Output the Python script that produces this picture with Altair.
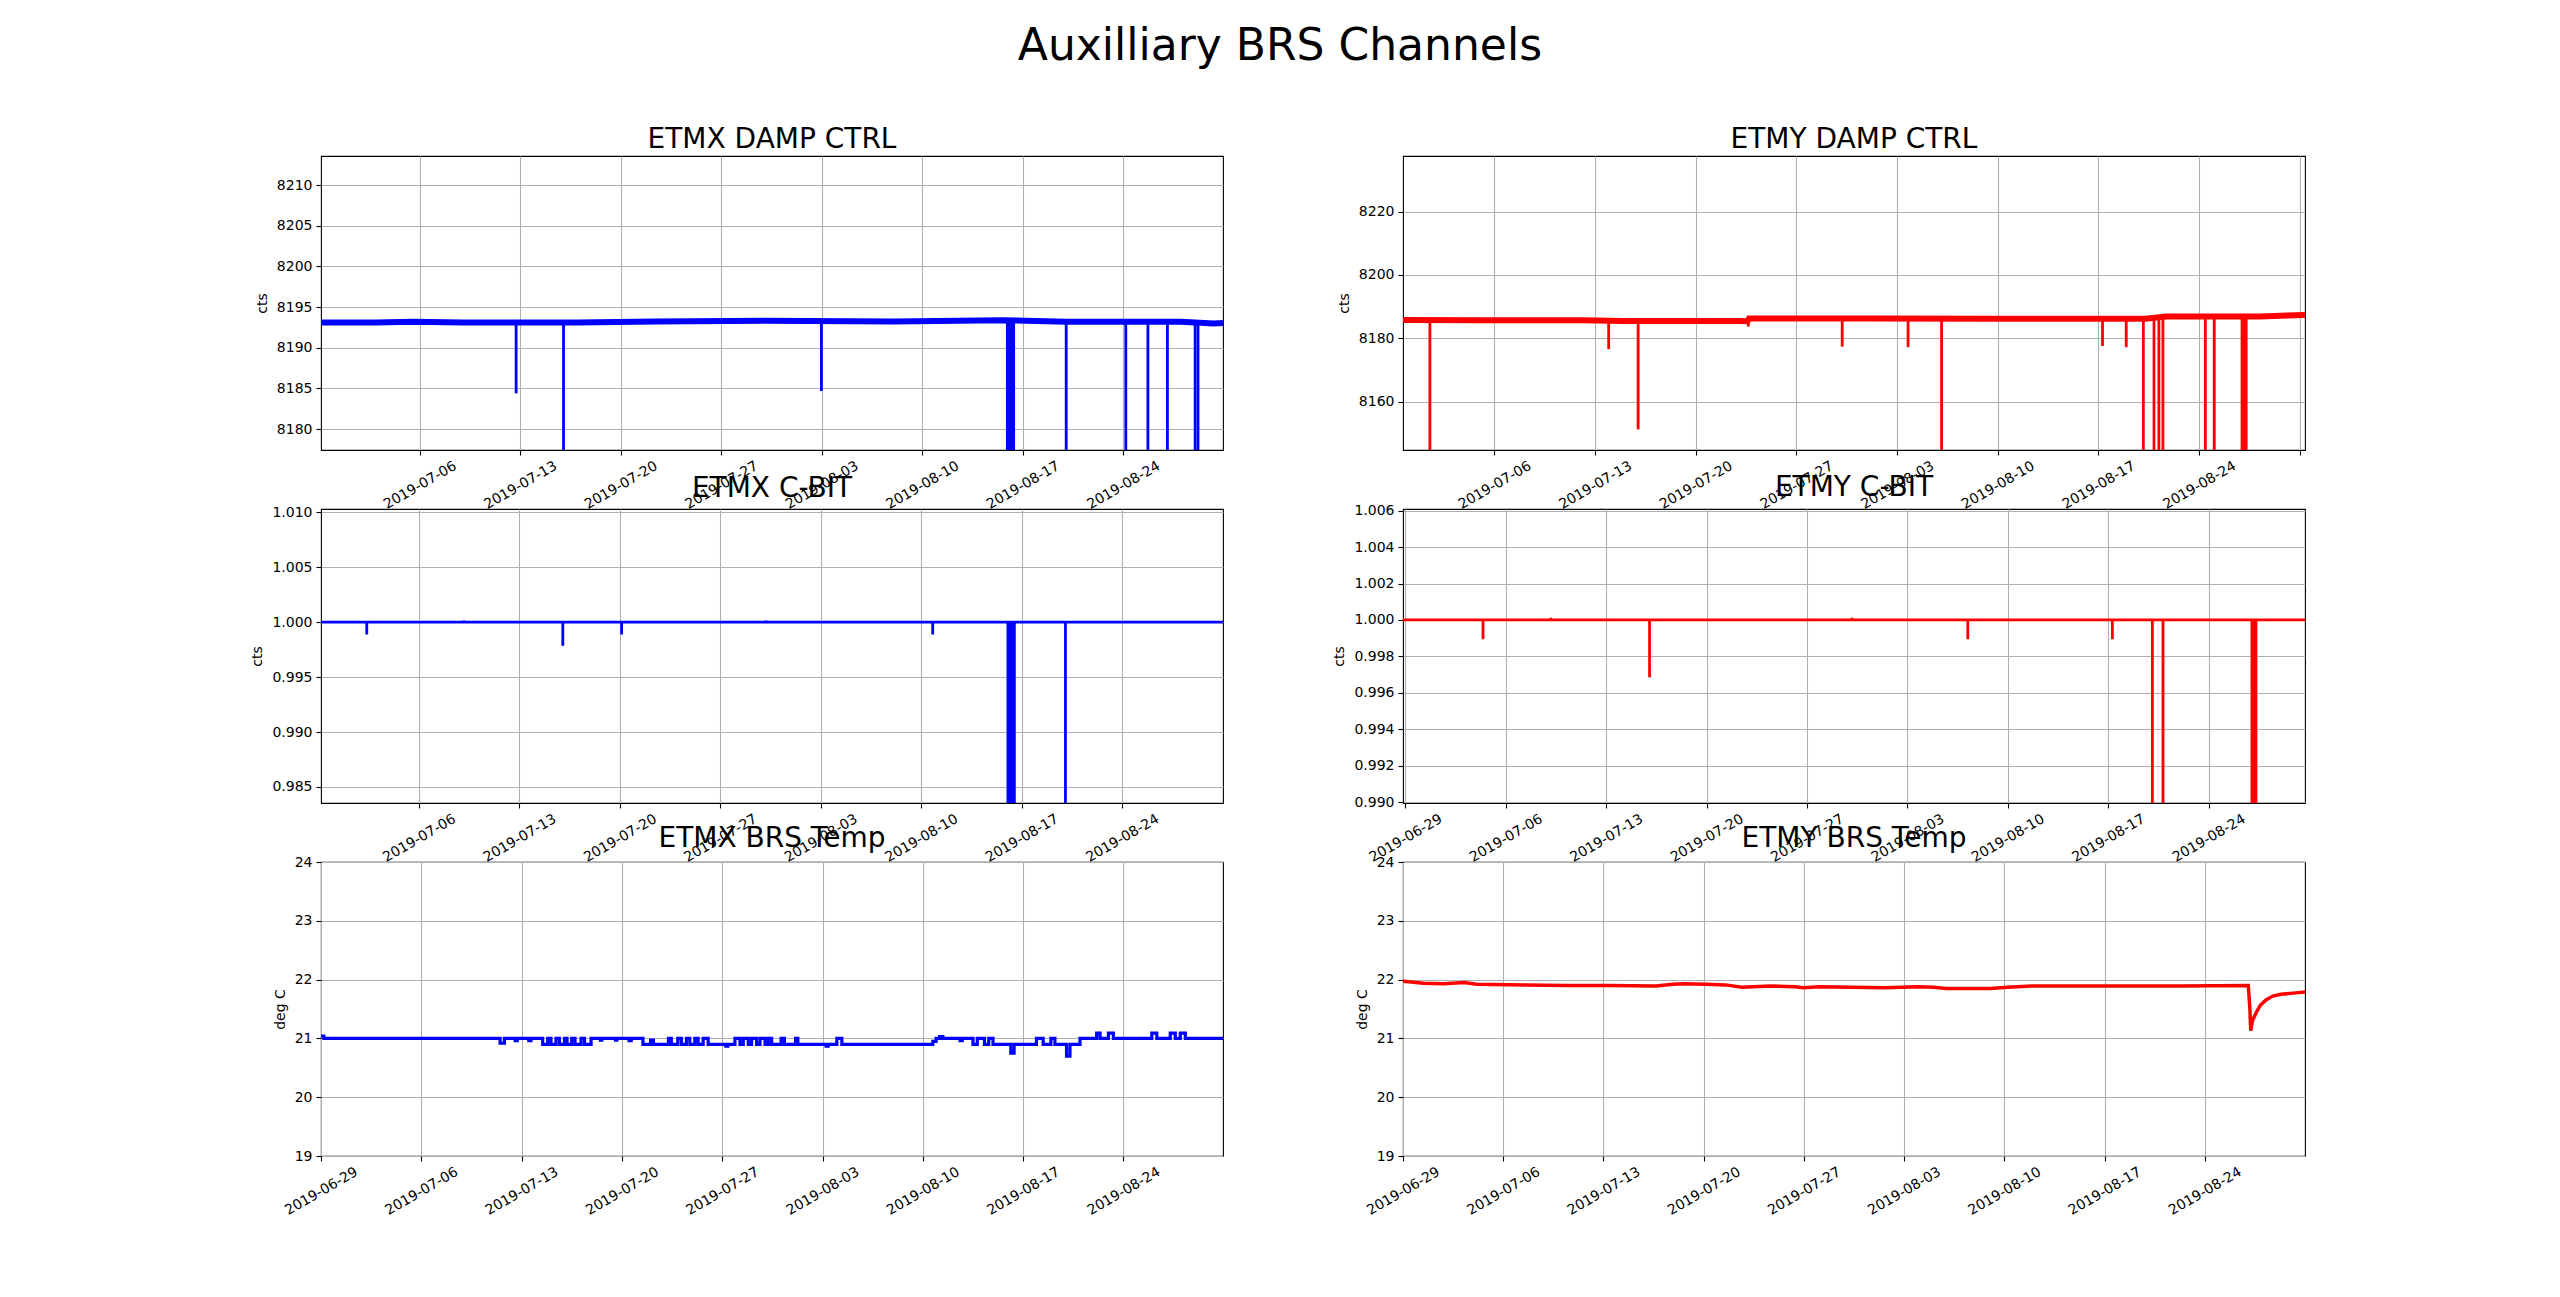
import altair as alt
import pandas as pd

# ---------------- data (days after 2019-06-29 00:00 UTC) ----------------
T0 = "2019-06-29"
week_ticks = ["2019-06-29", "2019-07-06", "2019-07-13", "2019-07-20", "2019-07-27",
              "2019-08-03", "2019-08-10", "2019-08-17", "2019-08-24", "2019-08-31"]

# ETMX DAMP CTRL
xd_base_day = [0.12, 4.0, 6.5, 10.0, 18.0, 23.5, 31.0, 40.0, 47.5, 52.0, 60.0, 62.3, 62.94]
xd_base_val = [8193.1, 8193.1, 8193.2, 8193.1, 8193.1, 8193.25, 8193.33, 8193.25, 8193.4,
               8193.2, 8193.2, 8193.0, 8193.05]
xd_spike_day = [13.71, 17.01, 34.97, 47.92, 48.07, 48.22, 48.36, 52.02, 56.17, 57.71, 59.07, 61.0, 61.2]
xd_spike_top = [8193.1, 8193.1, 8193.3, 8193.4, 8193.4, 8193.4, 8193.4, 8193.2, 8193.2, 8193.2,
                8193.2, 8193.2, 8193.2]
xd_spike_low = [8184.4, 8150.0, 8184.7, 8150.0, 8150.0, 8150.0, 8150.0, 8150.0, 8150.0, 8150.0,
                8150.0, 8150.0, 8150.0]

# ETMY DAMP CTRL
yd_base_day = [0.64, 6.0, 13.13, 15.97, 23.9, 24.6, 24.7, 33.0, 42.07, 52.29, 53.7, 60.23, 63.36]
yd_base_val = [8185.8, 8185.7, 8185.7, 8185.5, 8185.5, 8185.4, 8186.3, 8186.3, 8186.2, 8186.2,
               8186.9, 8186.9, 8187.4]
yd_spike_day = [2.51, 14.94, 16.99, 24.65, 31.18, 35.76, 38.09, 49.28, 50.93, 52.12, 52.86, 53.2,
                53.48, 56.43, 57.05, 58.98, 59.12, 59.27]
yd_spike_top = [8185.8, 8185.7, 8185.5, 8185.5, 8186.3, 8186.3, 8186.3, 8186.2, 8186.2, 8186.2,
                8186.9, 8186.9, 8186.9, 8186.9, 8186.9, 8186.9, 8186.9, 8186.9]
yd_spike_low = [8140.0, 8176.6, 8151.3, 8183.7, 8177.4, 8177.2, 8140.0, 8177.6, 8177.2, 8140.0,
                8140.0, 8140.0, 8140.0, 8140.0, 8140.0, 8140.0, 8140.0, 8140.0]

# ETMX C-BIT
xc_base_day = [0.17, 63.03]
xc_base_val = [1.0, 1.0]
xc_spike_day = [3.36, 10.13, 17.02, 21.12, 31.18, 42.8, 48.04, 48.19, 48.34, 48.49, 52.05]
xc_spike_top = [1.0, 1.0, 1.0, 1.0, 1.0, 1.0, 1.0, 1.0, 1.0, 1.0, 1.0]
xc_spike_low = [0.99888, 1.00015, 0.99785, 0.99888, 1.00015, 0.99888, 0.0, 0.0, 0.0, 0.0, 0.0]

# ETMY C-BIT
yc_base_day = [-0.17, 62.72]
yc_base_val = [1.0, 1.0]
yc_spike_day = [5.41, 10.13, 17.02, 31.13, 39.21, 49.29, 52.08, 52.82, 59.02, 59.16, 59.3]
yc_spike_top = [1.0, 1.0, 1.0, 1.0, 1.0, 1.0, 1.0, 1.0, 1.0, 1.0, 1.0]
yc_spike_low = [0.99894, 1.00012, 0.99685, 1.00012, 0.99894, 0.99894, 0.0, 0.0, 0.0, 0.0, 0.0]

# ETMX BRS Temp (stepwise, 0.1 deg quantised)
xt_day = [0.0, 0.2, 12.5, 12.8, 13.55, 13.7, 14.5, 14.65, 15.47, 15.82,
          16.05, 16.40, 16.64, 16.99, 17.17, 17.50, 17.73, 18.15, 18.39, 18.85,
          19.5, 19.6, 20.55, 20.65, 21.5, 21.65, 22.47, 23.0, 23.2, 24.25,
          24.45, 24.9, 25.15, 25.5, 25.74, 26.09, 26.32, 26.67, 27.02, 28.25,
          28.4, 28.89, 29.24, 29.47, 29.82, 30.05, 30.40, 30.64, 30.99, 31.22,
          31.45, 32.11, 32.34, 33.12, 33.28, 35.25, 35.4, 36.0, 36.35, 42.7,
          42.93, 43.17, 43.4, 44.6, 44.75, 45.5, 45.8, 46.3, 46.6, 46.9,
          48.14, 48.37, 49.93, 50.4, 50.94, 51.22, 52.03, 52.27, 52.97, 54.13,
          54.37, 54.95, 55.30, 57.98, 58.33, 59.27, 59.62, 59.97, 60.32, 62.95]
xt_val = [21.04, 21.0, 20.92, 21.0, 20.96, 21.0, 20.96, 21.0, 20.9, 21.0,
          20.9, 21.0, 20.9, 21.0, 20.9, 21.0, 20.9, 21.0, 20.9, 21.0,
          20.97, 21.0, 20.97, 21.0, 20.96, 21.0, 20.9, 20.97, 20.9, 21.0,
          20.9, 21.0, 20.9, 21.0, 20.9, 21.0, 20.9, 21.0, 20.9, 20.87,
          20.9, 21.0, 20.9, 21.0, 20.9, 21.0, 20.9, 21.0, 20.9, 21.0,
          20.9, 21.0, 20.9, 21.0, 20.9, 20.87, 20.9, 21.0, 20.9, 20.95,
          21.0, 21.03, 21.0, 20.96, 21.0, 20.9, 21.0, 20.9, 21.0, 20.9,
          20.75, 20.9, 21.0, 20.9, 21.0, 20.9, 20.7, 20.9, 21.0, 21.09,
          21.0, 21.09, 21.0, 21.09, 21.0, 21.09, 21.0, 21.09, 21.0, 21.0]

# ETMY BRS Temp
yt_day = [0.0, 0.57, 1.43, 2.85, 4.28, 5.13, 8.56, 11.41, 14.26, 17.68,
          18.82, 19.68, 21.11, 22.53, 23.67, 25.67, 27.38, 27.95, 29.09, 31.37,
          33.66, 35.94, 37.08, 37.94, 41.07, 42.21, 43.92, 48.49, 54.19, 59.04,
          59.15, 59.21, 59.33, 59.61, 59.90, 60.30, 60.75, 61.32, 62.18, 63.03]
yt_val = [21.97, 21.96, 21.94, 21.93, 21.95, 21.92, 21.91, 21.90, 21.90, 21.89,
          21.92, 21.93, 21.92, 21.91, 21.87, 21.89, 21.88, 21.86, 21.88, 21.87,
          21.86, 21.88, 21.87, 21.85, 21.85, 21.87, 21.89, 21.89, 21.89, 21.90,
          21.50, 21.13, 21.30, 21.45, 21.57, 21.66, 21.72, 21.75, 21.77, 21.79]

assert len(xt_day) == len(xt_val) and len(yt_day) == len(yt_val)

# ---------------- helpers ----------------
DAY_MS = 86400000
T0_MS = int(pd.Timestamp(T0 + "T00:00:00Z").value // 10**6)


def to_ms(day):
    return T0_MS + day * DAY_MS


def date_ms(s):
    return int(pd.Timestamp(s + "T00:00:00Z").value // 10**6)


FONT = "DejaVu Sans"
BLUE = "#0000ff"
RED = "#ff0000"


def panel(title, color, base_day, base_val, xdom, ticks, ydom, yticks, yfmt, ytitle,
          base_width, spikes=None, interp="linear", blank=None):
    base_df = pd.DataFrame({"t": [to_ms(d) for d in base_day], "v": base_val})
    label_expr = "utcFormat(datum.value, '%Y-%m-%d')"
    if blank:
        label_expr = f"time(datum.value) == {date_ms(blank)} ? '' : " + label_expr
    xaxis = alt.Axis(values=[date_ms(s) for s in ticks], labelExpr=label_expr,
                     labelAngle=-30, labelAlign="center", labelBaseline="middle",
                     labelPadding=30, labelOverlap=False, labelFlush=False, labelBound=False)
    yaxis = alt.Axis(values=yticks, format=yfmt, labelOverlap=False, labelFlush=False,
                     titlePadding=7)
    xenc = alt.X("t:T", scale=alt.Scale(type="utc", domain=[to_ms(xdom[0]), to_ms(xdom[1])]),
                 axis=xaxis, title=None)
    yscale = alt.Scale(domain=ydom, zero=False, nice=False)
    line = alt.Chart(base_df).mark_line(color=color, strokeWidth=base_width, clip=True,
                                        interpolate=interp).encode(
        x=xenc, y=alt.Y("v:Q", scale=yscale, axis=yaxis, title=ytitle))
    layers = [line]
    if spikes is not None:
        sd, st, sl = spikes
        sdf = pd.DataFrame({"t": [to_ms(d) for d in sd], "hi": st, "lo": sl})
        rule = alt.Chart(sdf).mark_rule(color=color, strokeWidth=2.8, clip=True).encode(
            x=xenc, y=alt.Y("lo:Q", scale=yscale, axis=yaxis, title=ytitle), y2="hi:Q")
        layers.append(rule)
    return alt.layer(*layers).properties(
        width=902, height=294,
        title=alt.TitleParams(title, fontSize=28, font=FONT, fontWeight="normal",
                              anchor="middle", baseline="alphabetic", offset=-20, color="black"))


p1 = panel("ETMX DAMP CTRL", BLUE, xd_base_day, xd_base_val, (0.12, 62.94), week_ticks[1:9],
           [8177.44, 8213.58], [8180, 8185, 8190, 8195, 8200, 8205, 8210], "d", "cts", 6,
           spikes=(xd_spike_day, xd_spike_top, xd_spike_low))
p2 = panel("ETMY DAMP CTRL", RED, yd_base_day, yd_base_val, (0.64, 63.36), week_ticks[1:10],
           [8144.8, 8237.5], [8160, 8180, 8200, 8220], "d", "cts", 6,
           spikes=(yd_spike_day, yd_spike_top, yd_spike_low), blank="2019-08-31")
p3 = panel("ETMX C-BIT", BLUE, xc_base_day, xc_base_val, (0.17, 63.03), week_ticks[1:9],
           [0.98354, 1.0103], [0.985, 0.990, 0.995, 1.000, 1.005, 1.010], ".3f", "cts", 2.8,
           spikes=(xc_spike_day, xc_spike_top, xc_spike_low))
p4 = panel("ETMY C-BIT", RED, yc_base_day, yc_base_val, (-0.17, 62.72), week_ticks[0:9],
           [0.98995, 1.00609], [0.990, 0.992, 0.994, 0.996, 0.998, 1.000, 1.002, 1.004, 1.006],
           ".3f", "cts", 2.8, spikes=(yc_spike_day, yc_spike_top, yc_spike_low))
p5 = panel("ETMX BRS Temp", BLUE, xt_day, xt_val, (0.0, 62.95), week_ticks[0:9],
           [19, 24], [19, 20, 21, 22, 23, 24], "d", "deg C", 3.2, interp="step-after")
p6 = panel("ETMY BRS Temp", RED, yt_day, yt_val, (0.0, 63.0), week_ticks[0:9],
           [19, 24], [19, 20, 21, 22, 23, 24], "d", "deg C", 3.5)

chart = alt.concat(
    p1, p2, p3, p4, p5, p6, columns=2,
    spacing={"row": 59, "column": 180}, bounds="flush",
    title=alt.TitleParams("Auxilliary BRS Channels", fontSize=44, font=FONT, fontWeight="normal",
                          anchor="middle", baseline="alphabetic", offset=21, dx=2, color="black"),
).properties(
    padding={"left": 242, "top": 17, "right": 10, "bottom": 10},
    background="white"
).configure_view(
    stroke="black", strokeWidth=1.1
).configure_axis(
    grid=True, gridColor="#b0b0b0", gridWidth=1.1, domain=False,
    tickColor="black", tickSize=5, tickWidth=1.1,
    labelColor="black", labelFontSize=14, labelFont=FONT, labelPadding=4,
    titleFont=FONT, titleFontSize=14, titleFontWeight="normal", titleColor="black"
)

chart.save("out.html", embed_options={"renderer": "svg", "actions": False})
